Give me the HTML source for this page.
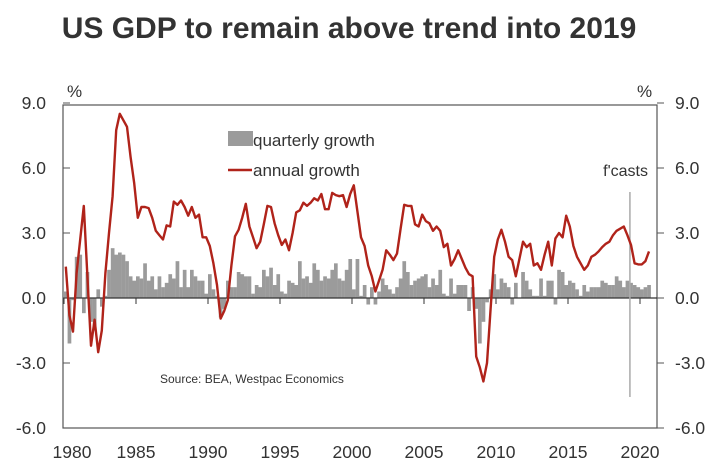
<!DOCTYPE html>
<html><head><meta charset="utf-8"><style>
body{margin:0;background:#fff;width:727px;height:466px;overflow:hidden;font-family:"Liberation Sans",Arial,sans-serif}
</style></head><body>
<svg width="727" height="466">
<text x="349" y="38" text-anchor="middle" font-size="30" font-weight="bold" fill="#333">US GDP to remain above trend into 2019</text>
<g id="plot"></g>
</svg>
<script>
const yTicks=[9,6,3,0,-3,-6];
const yTickLabels=["9.0","6.0","3.0","0.0","-3.0","-6.0"];
const xTicks=[1980,1985,1990,1995,2000,2005,2010,2015,2020];
const quarterly=[0.3,-2.1,-0.1,1.9,2.0,-0.7,1.2,-1.1,-1.5,0.4,-0.4,0.1,1.3,2.3,2.0,2.1,2.0,1.7,1.0,0.8,
1.0,0.9,1.6,0.8,1.0,0.4,1.0,0.5,0.7,1.1,0.9,1.7,0.5,1.3,0.5,1.3,1.0,0.8,0.8,0.2,
1.1,0.4,0.1,-0.9,-0.5,0.8,0.5,0.5,1.2,1.1,1.0,1.0,0.2,0.6,0.5,1.3,1.0,1.4,0.6,1.1,
0.3,0.2,0.8,0.7,0.6,1.7,0.9,1.0,0.7,1.6,1.3,0.8,1.0,0.9,1.3,1.6,0.9,0.8,1.3,1.8,
0.4,1.8,0.1,0.6,-0.3,0.5,-0.3,0.3,0.9,0.6,0.4,0.2,0.5,0.9,1.7,1.2,0.6,0.8,0.9,1.0,
1.1,0.5,0.9,0.6,1.3,0.2,0.1,0.9,0.2,0.6,0.6,0.6,-0.6,0.5,-0.5,-2.1,-1.1,-0.2,0.4,1.1,
0.4,0.9,0.7,0.5,-0.3,0.7,0.0,1.2,0.8,0.4,0.1,0.1,0.9,0.1,0.8,0.8,-0.3,1.3,1.2,0.6,
0.8,0.7,0.4,0.1,0.6,0.3,0.5,0.5,0.5,0.8,0.7,0.6,0.6,1.0,0.8,0.5,0.8,0.7,0.6,0.5,0.4,0.5,0.6];
const annual=[1.45,-0.8,-1.55,1.15,2.7,4.25,1.0,-2.2,-1.0,-2.5,-1.5,1.15,3.0,4.7,7.75,8.5,8.2,7.9,6.5,5.3,
3.7,4.2,4.2,4.15,3.7,3.1,2.9,2.7,3.35,3.3,4.45,4.3,4.5,4.2,3.8,4.2,3.7,3.85,2.8,2.8,
2.4,1.6,0.6,-0.95,-0.6,-0.1,1.5,2.85,3.15,3.7,4.35,3.3,2.8,2.3,2.6,3.4,4.25,4.2,3.45,2.9,
2.45,2.7,2.2,3.0,3.95,4.05,4.4,4.25,4.4,4.6,4.5,4.8,4.1,4.1,4.85,4.75,4.7,4.75,4.2,4.8,
5.2,4.0,2.8,2.4,1.5,1.0,0.3,0.8,1.3,2.2,2.0,1.75,2.05,3.2,4.3,4.25,4.25,3.4,3.3,3.85,
3.55,3.45,3.1,3.3,3.1,2.35,2.5,1.5,1.8,2.2,1.8,1.4,1.1,1.0,-2.7,-3.2,-3.85,-3.0,-0.5,1.9,
2.7,3.15,2.6,1.9,1.75,1.0,1.8,2.6,2.35,2.5,1.5,1.6,1.3,2.0,2.6,1.5,2.75,3.0,2.8,3.8,
3.3,2.4,1.9,1.6,1.3,1.5,1.9,2.0,2.15,2.35,2.5,2.6,2.9,3.1,3.2,3.3,2.9,2.45,1.6,1.55,1.55,1.7,2.15];
const forecastStart=2018.5;

const L=63,R=657,T=105,B=428,x0=64,pxYear=14.4;
const X=yr=>x0+(yr-1980)*pxYear;
const Y=v=>298-v*(65/3);
const NS="http://www.w3.org/2000/svg";
const g=document.getElementById('plot');
function mk(tag,attrs,parent){const e=document.createElementNS(NS,tag);for(const k in attrs)e.setAttribute(k,attrs[k]);(parent||g).appendChild(e);return e;}

const bars=mk('g',{});


quarterly.forEach((v,i)=>{
  const yr=1980+i/4;
  const b=mk('rect',{x:X(yr),y:Math.min(Y(v),Y(0)),width:3.7,height:Math.abs(Y(v)-Y(0)),fill:'#9b9b9b'},bars);
  
  
});

const frame=mk('rect',{x:L,y:T,width:R-L,height:B-T,fill:'none',stroke:'#555','stroke-width':1.2});


const zl=mk('line',{x1:L,x2:R,y1:Y(0),y2:Y(0),stroke:'#333','stroke-width':1.2});



yTicks.forEach((v,i)=>{
  mk('line',{x1:L,x2:L+7,y1:Y(v),y2:Y(v),stroke:'#555'});
  mk('line',{x1:R,x2:R+7,y1:Y(v),y2:Y(v),stroke:'#555'});
  const a=mk('text',{x:46,y:Y(v)+6,'text-anchor':'end','font-size':17.5,fill:'#333'});a.textContent=yTickLabels[i];
  
  
  const b=mk('text',{x:675,y:Y(v)+6,'font-size':17.5,fill:'#333'});b.textContent=yTickLabels[i];
  
  
});
xTicks.forEach(yr=>{
  mk('line',{x1:X(yr),x2:X(yr),y1:Y(0),y2:Y(0)+6,stroke:'#333'});
  const t=mk('text',{x:X(yr)+(yr===1980?8:0),y:458,'text-anchor':'middle','font-size':17.5,fill:'#333'});t.textContent=yr;
  
  
});

const fl=mk('line',{x1:X(forecastStart+0.8),x2:X(forecastStart+0.8),y1:192,y2:397,stroke:'#aaa','stroke-width':1.5});



const pts=annual.map((v,i)=>X(1980+i/4+0.125).toFixed(1)+','+Y(v).toFixed(1)).join(' ');
const ln=mk('polyline',{points:pts,fill:'none',stroke:'#b0231a','stroke-width':2.4,'stroke-linejoin':'round'});



function txt(x,y,s,size,name,anchor){const t=mk('text',{x:x,y:y,'font-size':size,fill:'#333','text-anchor':anchor||'start'});t.textContent=s;

return t;}
txt(67,97,'%',17,'y-unit-left');
txt(637,97,'%',17,'y-unit-right');
txt(648,176,"f'casts",16,'forecast-label','end');
txt(160,383,'Source: BEA, Westpac Economics',12,'source-note');
const ls=mk('rect',{x:228,y:131,width:25,height:15,fill:'#9b9b9b'});


txt(253,146,'quarterly growth',17,'legend-label-quarterly');
const ll=mk('line',{x1:228,x2:252,y1:170,y2:170,stroke:'#b0231a','stroke-width':2.4});


txt(253,176,'annual growth',17,'legend-label-annual');
</script>
</body></html>
